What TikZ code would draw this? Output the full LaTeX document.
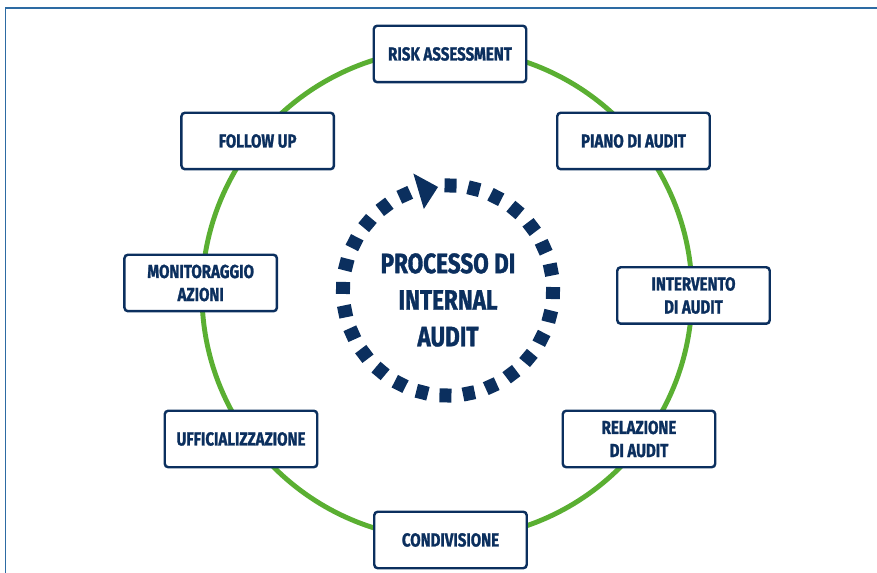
\documentclass[tikz,border=0pt]{standalone}
\usepackage{fontspec}
\setmainfont{Fira Sans}[FakeStretch=0.8,BoldFeatures={FakeBold=1.2}]
\definecolor{navy}{HTML}{0B2F5E}
\definecolor{ringgreen}{HTML}{5AAF32}
\definecolor{frameblue}{HTML}{2D6BA3}

\begin{document}
\begin{tikzpicture}[x=0.02cm,y=0.02cm,
    stepbox/.style={draw=navy,line width=1.4pt,fill=white,rounded corners=2pt,
        minimum width=3.05cm,minimum height=1.13cm,inner sep=0pt,align=center,
        text=navy,font=\bfseries\fontsize{10.7}{13.1}\selectfont},
    ring/.style={draw=ringgreen,line width=2.8pt},
    tick/.style={fill=navy}]
    \useasboundingbox (0,0) rectangle (877,573);
    % frame, top and left only
    \draw[frameblue,line width=0.85pt] (5.5,0) -- (5.5,565) -- (877,565);
    % green cycle
    \draw[ring] (447,279) circle (245);
    % the steps
    \node[stepbox] (risk)              at (450,519)   {RISK ASSESSMENT};
    \node[stepbox] (piano)             at (633.5,432) {PIANO DI AUDIT};
    \node[stepbox] (intervento)        at (693.5,277.5) {INTERVENTO\\DI AUDIT};
    \node[stepbox] (relazione)         at (639,134)   {RELAZIONE\\DI AUDIT};
    \node[stepbox] (condivisione)      at (450.5,33)  {CONDIVISIONE};
    \node[stepbox] (ufficializzazione) at (241,134)   {UFFICIALIZZAZIONE};
    \node[stepbox] (monitoraggio)      at (200.7,290) {MONITORAGGIO\\AZIONI};
    \node[stepbox] (followup)          at (257.7,432) {FOLLOW UP};
    % dashed ring with arrow head
    \coordinate (c) at (448,282.5);
    \foreach \k in {0,...,26}
        \fill[tick,shift={(c)},rotate={88.6-\k*12.857}] (98,-6) rectangle (112,6);
    \fill[tick,shift={(c)}] (106.5:122) -- (95.5:104) -- (106.5:85) -- cycle;
    \node[align=center,text=navy,font=\bfseries\fontsize{16}{20.8}\selectfont]
        (processo) at (448,273) {PROCESSO DI\\INTERNAL\\AUDIT};
\end{tikzpicture}
\end{document}
